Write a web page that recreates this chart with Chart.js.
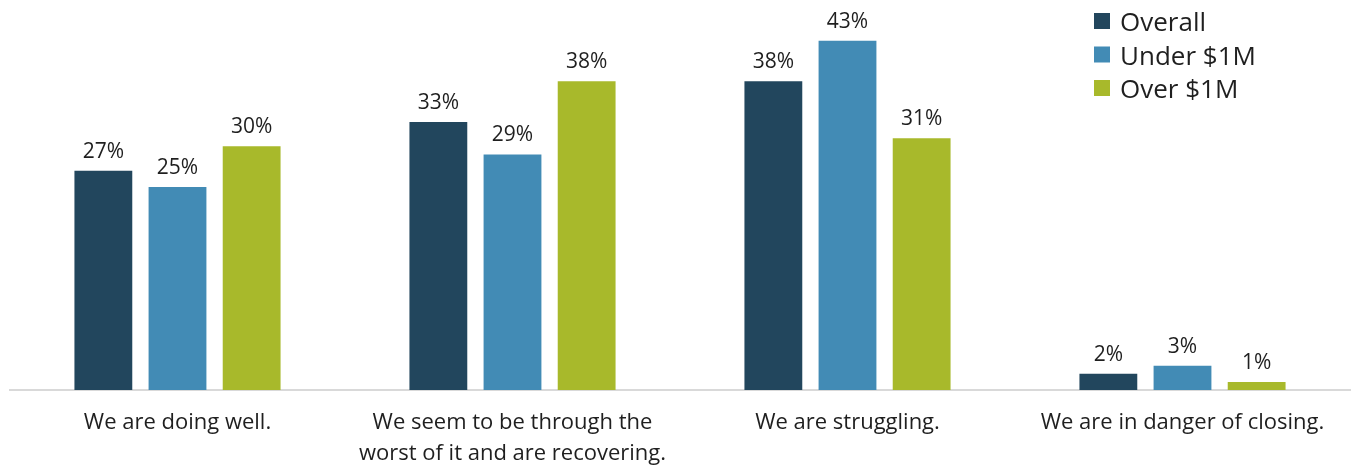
<!DOCTYPE html>
<html>
<head>
<meta charset="utf-8">
<script src="https://cdn.jsdelivr.net/npm/chart.js@4.4.1/dist/chart.umd.min.js"></script>
<style>
  html, body { margin: 0; padding: 0; background: #ffffff; }
  #wrap { width: 1351px; height: 466px; position: relative; }
</style>
</head>
<body>
<div id="wrap"><canvas id="chart"></canvas></div>
<script>
// Survey responses by business size (percent of respondents)
const categories = [
  'We are doing well.',
  ['We seem to be through the', 'worst of it and are recovering.'],
  'We are struggling.',
  'We are in danger of closing.'
];
const seriesNames = ['Overall', 'Under $1M', 'Over $1M'];
const overall = [27, 33, 38, 2];
const under1M = [25, 29, 43, 3];
const over1M = [30, 38, 31, 1];
const seriesColors = ['#22465d', '#428bb5', '#a8b92b'];

const FONT = '"Open Sans", "Noto Sans", sans-serif';
const TEXT = '#1f1f1f';

// Percent labels above every bar
const valueLabels = {
  id: 'valueLabels',
  afterDatasetsDraw(chart) {
    const ctx = chart.ctx;
    ctx.save();
    ctx.font = '21px ' + FONT;
    ctx.fillStyle = TEXT;
    ctx.textAlign = 'center';
    ctx.textBaseline = 'alphabetic';
    chart.data.datasets.forEach((ds, i) => {
      chart.getDatasetMeta(i).data.forEach((bar, j) => {
        ctx.fillText(ds.data[j] + '%', bar.x, bar.y - 13);
      });
    });
    ctx.restore();
  }
};

// Stacked legend in the upper right corner
const cornerLegend = {
  id: 'cornerLegend',
  afterDraw(chart) {
    const ctx = chart.ctx;
    ctx.save();
    ctx.font = '26px ' + FONT;
    ctx.textAlign = 'left';
    ctx.textBaseline = 'alphabetic';
    chart.data.datasets.forEach((ds, i) => {
      const y = 31 + i * 33.5;
      ctx.fillStyle = ds.backgroundColor;
      ctx.fillRect(1094, y - 18, 16, 16);
      ctx.fillStyle = TEXT;
      ctx.fillText(ds.label, 1120, y);
    });
    ctx.restore();
  }
};

new Chart(document.getElementById('chart'), {
  type: 'bar',
  data: {
    labels: categories,
    datasets: [
      { label: seriesNames[0], data: overall, backgroundColor: seriesColors[0] },
      { label: seriesNames[1], data: under1M, backgroundColor: seriesColors[1] },
      { label: seriesNames[2], data: over1M, backgroundColor: seriesColors[2] }
    ]
  },
  options: {
    responsive: true,
    maintainAspectRatio: false,
    animation: false,
    layout: { padding: { left: 10, right: 1, top: 0, bottom: 0 } },
    datasets: {
      bar: { categoryPercentage: 0.664, barPercentage: 0.78 }
    },
    plugins: {
      legend: { display: false },
      tooltip: { enabled: false }
    },
    scales: {
      x: {
        grid: { display: false, drawTicks: false },
        border: { display: true, color: '#d9d9d9', width: 2 },
        ticks: {
          color: TEXT,
          font: { family: FONT, size: 22, lineHeight: 1.41 },
          padding: 17,
          maxRotation: 0,
          autoSkip: false
        },
        afterFit(scale) { scale.height = 76; }
      },
      y: {
        display: false,
        min: 0,
        max: 48
      }
    }
  },
  plugins: [valueLabels, cornerLegend]
});
</script>
</body>
</html>
